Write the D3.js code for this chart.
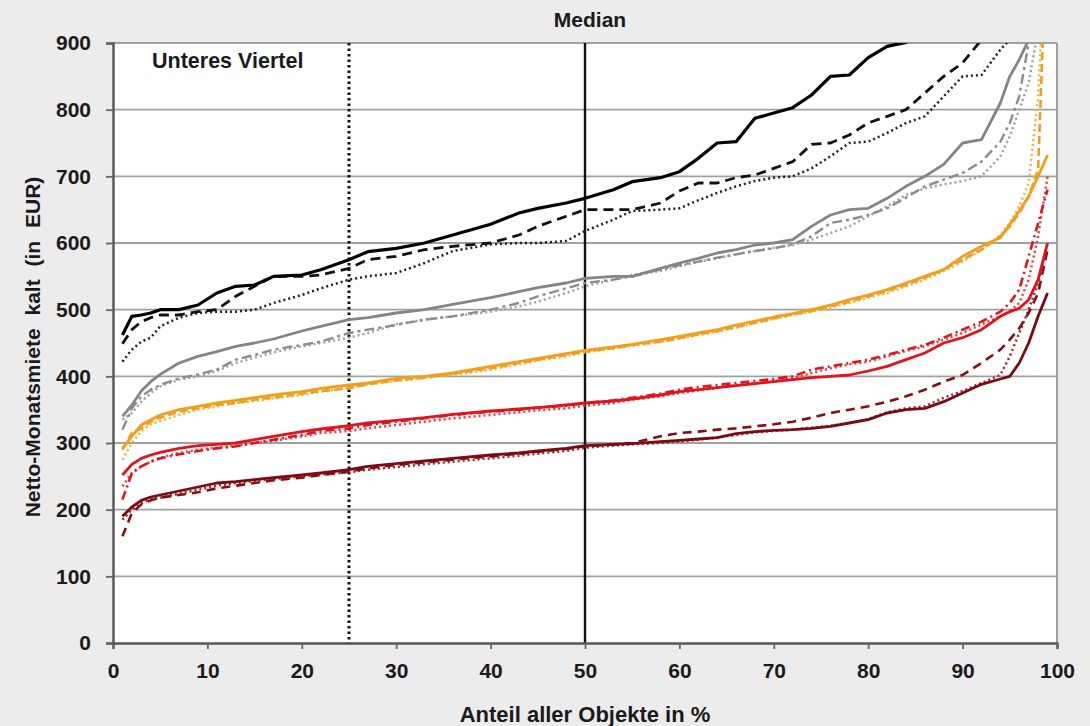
<!DOCTYPE html>
<html><head><meta charset="utf-8">
<script src="https://cdn.jsdelivr.net/npm/d3@7"></script>
<style>
html,body{margin:0;padding:0;background:#ececec;}
svg{display:block;font-family:"Liberation Sans",Arial,sans-serif;}
</style></head>
<body><svg id="c" width="1090" height="726"></svg>
<script>
// Percentile positions (share of all objects, %)
const pct = [1,2,3,4,5,7,9,11,13,15,17,20,22,25,27,30,33,36,40,43,45,48,50,53,55,58,60,62,64,66,68,70,72,74,76,78,80,82,84,86,88,90,92,94,95,96,97,98,99];

// Net monthly rent (EUR) per percentile
const blackSolid  = [462,490,492,495,500,500,507,525,535,537,550,552,560,575,587,592,600,612,628,645,652,660,667,680,692,698,707,727,750,752,787,795,803,822,850,852,878,895,901,915,940,960,980,1000,1010,1020,1040,1060,1100];
const blackDashed = [449,470,482,488,492,492,497,500,520,535,550,550,552,562,575,580,590,595,600,612,625,640,650,650,650,660,678,690,690,698,702,712,722,748,750,762,780,790,800,825,850,870,905,940,960,980,1000,1040,1100];
const blackDotted = [422,440,452,458,475,488,495,497,497,500,510,522,532,545,550,555,570,588,598,600,600,603,618,635,648,650,652,664,675,685,693,698,700,712,730,750,752,765,780,790,820,850,852,890,905,925,950,980,1020];

const graySolid   = [340,357,378,392,403,420,430,437,445,450,456,468,475,485,488,495,500,508,518,527,533,540,547,550,550,562,570,577,585,590,597,600,605,625,642,650,652,667,685,700,718,750,755,810,850,875,905,960,1020];
const grayDashDot = [320,352,370,380,387,397,403,410,425,432,440,447,452,465,470,477,485,490,500,510,520,532,540,545,550,560,567,572,578,583,588,592,598,610,630,635,642,652,668,685,695,705,722,752,780,820,900,980,1050];
const grayDotted  = [335,345,362,375,385,395,400,408,420,428,436,445,450,458,465,478,485,490,497,505,512,525,535,545,552,558,565,572,577,583,588,593,597,605,615,625,640,655,672,682,688,693,700,730,760,800,840,920,1000];

const orangeSolid  = [292,310,327,335,342,350,355,360,364,368,372,377,382,387,390,397,400,405,415,422,427,434,439,444,448,455,460,465,470,477,483,489,494,500,507,515,522,530,540,550,560,580,595,608,628,648,670,700,732];
const orangeDashed = [290,315,322,332,338,347,352,357,360,365,368,374,378,382,388,394,398,404,412,420,425,432,437,442,447,452,457,463,468,474,480,487,493,498,505,512,520,528,537,548,560,575,590,610,625,645,670,710,1100];
const orangeDotted = [275,300,318,328,333,342,350,355,360,363,367,372,377,383,388,393,398,402,410,418,424,430,436,442,446,452,457,462,467,473,480,486,492,497,503,510,518,525,535,545,558,572,590,612,630,655,690,820,1100];

const redSolid   = [252,268,277,282,286,292,296,298,300,305,310,317,321,326,330,334,338,343,348,351,353,357,360,363,366,372,377,380,383,386,389,392,395,398,400,402,408,415,425,435,450,458,470,490,497,502,515,545,600];
const redDashDot = [215,255,265,272,277,283,288,292,295,300,305,312,318,322,327,332,337,342,347,350,353,356,360,364,368,374,380,384,387,390,393,396,400,410,415,420,425,432,440,447,458,470,482,497,510,530,580,630,680];
const redDotted  = [235,255,265,272,278,285,290,293,296,300,303,310,315,318,322,327,332,337,342,346,349,352,356,360,365,370,375,379,383,387,390,393,397,405,412,418,422,430,438,445,455,465,478,490,498,510,545,610,700];

const darkSolid  = [190,204,214,219,222,228,234,240,242,245,248,252,255,260,265,269,273,277,282,285,288,292,296,298,299,302,304,306,308,314,317,319,320,322,325,330,335,345,350,352,362,375,388,396,400,420,450,490,525];
const darkDashed = [160,195,208,214,218,222,226,232,236,240,244,248,252,257,262,267,271,275,280,284,287,291,295,298,300,310,315,317,320,322,325,328,332,338,345,350,355,362,370,380,392,402,420,440,455,472,495,525,590];
const darkDotted = [185,200,210,215,218,224,230,236,240,243,246,250,253,256,260,264,268,272,277,281,284,288,293,296,298,300,302,305,308,312,316,318,320,323,326,330,336,346,352,355,368,378,390,402,430,465,500,540,600];

const xTicks = [0,10,20,30,40,50,60,70,80,90,100];
const yTicks = [0,100,200,300,400,500,600,700,800,900];

const series = [
  {v: darkDotted,  color:"#9a2a30", w:2.5, dash:"2,3"},
  {v: darkDashed,  color:"#8a0d16", w:2.6, dash:"9,6"},
  {v: darkSolid,   color:"#7d0a12", w:2.8, dash:null},
  {v: redDotted,   color:"#ee3a40", w:2.5, dash:"2,3"},
  {v: redDashDot,  color:"#e3131b", w:2.6, dash:"9,4,2,4"},
  {v: redSolid,    color:"#e3131b", w:2.8, dash:null},
  {v: orangeDotted,color:"#f5b040", w:2.5, dash:"2,3"},
  {v: orangeDashed,color:"#f0a020", w:2.6, dash:"8,4"},
  {v: orangeSolid, color:"#f2a01c", w:2.8, dash:null},
  {v: grayDotted,  color:"#9aa2ac", w:2.5, dash:"2,3"},
  {v: grayDashDot, color:"#8c8c8c", w:2.4, dash:"10,4,3,4"},
  {v: graySolid,   color:"#858585", w:2.8, dash:null},
  {v: blackDotted, color:"#222222", w:2.5, dash:"2,3"},
  {v: blackDashed, color:"#111111", w:2.8, dash:"10,6"},
  {v: blackSolid,  color:"#000000", w:3.2, dash:null}
];

const svg = d3.select("#c");
const L = 113, R = 1057, T = 43, B = 643;
const x = d3.scaleLinear().domain([0,100]).range([L,R]);
const y = d3.scaleLinear().domain([0,900]).range([B,T]);

svg.append("rect").attr("x",L).attr("y",T).attr("width",R-L).attr("height",B-T).attr("fill","#ffffff");

svg.append("defs").append("clipPath").attr("id","clip")
  .append("rect").attr("x",L).attr("y",T).attr("width",R-L).attr("height",B-T);

// grid lines
svg.append("g").selectAll("line").data(yTicks.filter(d=>d>0)).join("line")
  .attr("x1",L).attr("x2",R).attr("y1",d=>y(d)).attr("y2",d=>y(d))
  .attr("stroke","#a0a0a0").attr("stroke-width",1.8);
// right border
svg.append("line").attr("x1",R).attr("x2",R).attr("y1",T).attr("y2",B)
  .attr("stroke","#a0a0a0").attr("stroke-width",2);

// quartile / median markers
svg.append("line").attr("x1",x(25)).attr("x2",x(25)).attr("y1",T).attr("y2",B)
  .attr("stroke","#111").attr("stroke-width",3).attr("stroke-dasharray","2.5,3");
svg.append("line").attr("x1",x(50)).attr("x2",x(50)).attr("y1",T).attr("y2",B)
  .attr("stroke","#111").attr("stroke-width",2.4);

// series
const line = d3.line().x((d,i)=>x(pct[i])).y(d=>y(d));
const g = svg.append("g").attr("clip-path","url(#clip)");
series.forEach(s=>{
  g.append("path").datum(s.v).attr("d",line)
    .attr("fill","none").attr("stroke",s.color).attr("stroke-width",s.w)
    .attr("stroke-dasharray",s.dash).attr("stroke-linejoin","round");
});

// axes
const ax = svg.append("g").attr("transform",`translate(0,${B})`)
  .call(d3.axisBottom(x).tickValues(xTicks).tickSize(6).tickPadding(14));
const ay = svg.append("g").attr("transform",`translate(${L},0)`)
  .call(d3.axisLeft(y).tickValues(yTicks).tickSize(7).tickPadding(15));
[ax,ay].forEach(a=>{
  a.select(".domain").attr("stroke","#555").attr("stroke-width",2.4);
  a.selectAll(".tick line").attr("stroke","#666").attr("stroke-width",1.8);
  a.selectAll(".tick text").attr("font-size",21).attr("font-weight","bold").attr("fill","#1a1a1a")
    .attr("font-family","'Liberation Sans',Arial,sans-serif");
});

// texts
svg.append("text").attr("x",x(50)+5).attr("y",27).attr("text-anchor","middle")
  .attr("font-size",21).attr("font-weight","bold").attr("fill","#1a1a1a").text("Median");
svg.append("text").attr("x",152).attr("y",68)
  .attr("font-size",21.5).attr("font-weight","bold").attr("fill","#1a1a1a").text("Unteres Viertel");
svg.append("text").attr("x",(L+R)/2).attr("y",722).attr("text-anchor","middle")
  .attr("font-size",22).attr("font-weight","bold").attr("fill","#1a1a1a").text("Anteil aller Objekte in %");
svg.append("text").attr("transform","translate(40,347) rotate(-90)").attr("text-anchor","middle")
  .attr("font-size",21).attr("font-weight","bold").attr("fill","#1a1a1a")
  .attr("word-spacing",7).text("Netto-Monatsmiete kalt (in EUR)");
</script></body></html>
